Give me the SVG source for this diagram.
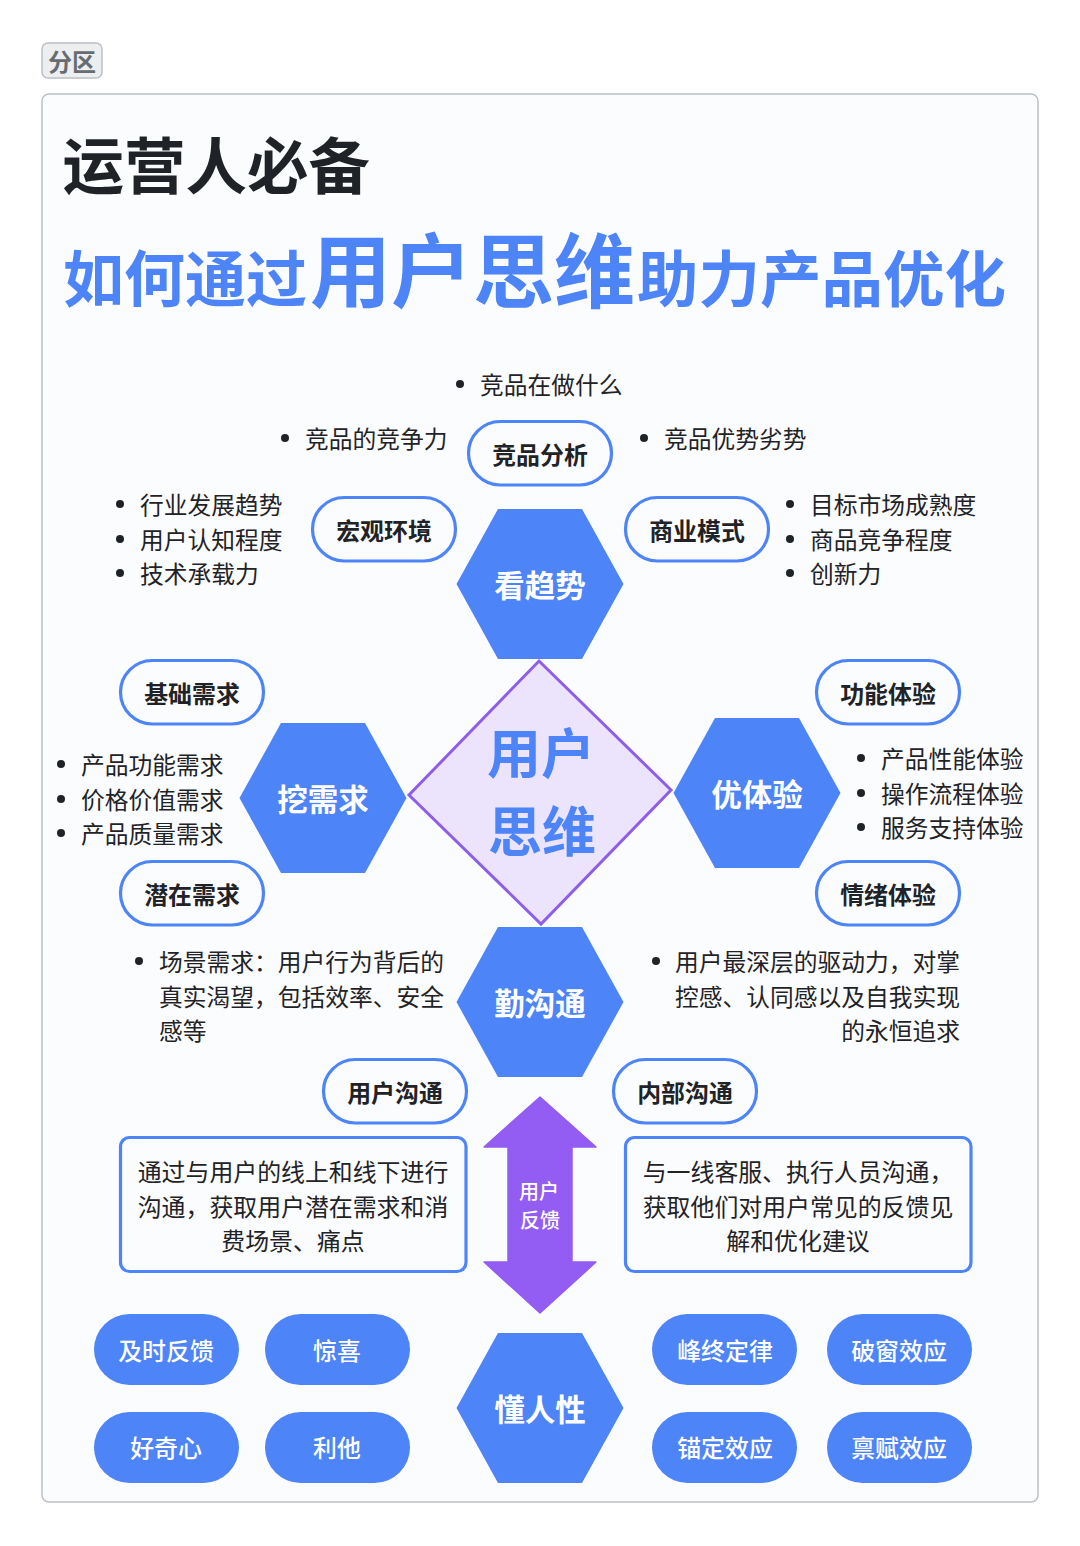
<svg xmlns="http://www.w3.org/2000/svg" width="1080" height="1546" viewBox="0 0 1080 1546">
<style>
text{font-family:"Noto Sans CJK SC","Noto Sans",sans-serif}
.b{font-size:23.750px;fill:#1f2328}
.bx{font-size:23.900px;fill:#1f2328;text-anchor:middle}
.e{text-anchor:end}
.pill{fill:#fbfcfd;stroke:#4d84f7;stroke-width:3.2}
.pt{font-size:23.900px;font-weight:700;fill:#1f2328;text-anchor:middle}
.hex{fill:#4d84f7}
.ht{font-size:30.500px;font-weight:700;fill:#fff;text-anchor:middle}
.fp{fill:#4d84f7}
.ft{font-size:23.900px;font-weight:500;fill:#fff;text-anchor:middle}
.box{fill:#fbfcfd;stroke:#4d84f7;stroke-width:3.2}
.dot{fill:#1f2328}
</style>
<rect width="1080" height="1546" fill="#fff"/>
<g id="section-tag"><rect x="42" y="43" width="60" height="35" rx="6" fill="#eceef0" stroke="#bcc0c4" stroke-width="1.500"/><text x="72" y="71" font-size="24" font-weight="700" fill="#666c72" text-anchor="middle">分区</text></g>
<rect id="section" x="42" y="94" width="996" height="1408" rx="7" fill="#fbfcfd" stroke="#bcc0c4" stroke-width="1.500"/>
<g id="titles">
<text x="62.500" y="189" font-size="61.500" font-weight="700" fill="#1f2328">运营人必备</text>
<text y="302" font-weight="700" fill="#4d84f7" font-size="61"><tspan x="63">如何通过</tspan><tspan x="310" y="301" font-size="81">用户</tspan><tspan x="473" y="301" font-size="81">思维</tspan><tspan x="637" y="302" font-size="61.500">助力产品优化</tspan></text>
</g>
<g id="connectors"/>
<g id="center"><polygon points="539,661 671,790 541,924 409,795" fill="#ece3fd" stroke="#8f5ee8" stroke-width="3"/><text x="541" y="774" font-size="54" font-weight="700" fill="#4d84f7" text-anchor="middle">用户</text><text x="542" y="852" font-size="54" font-weight="700" fill="#4d84f7" text-anchor="middle">思维</text></g>
<g id="n-kanqushi"><polygon class="hex" points="498,509 582,509 623.500,584 582,659 498,659 456.500,584"/><text class="ht" x="540" y="597">看趋势</text></g>
<g id="n-waxuqiu"><polygon class="hex" points="281,723 365,723 406.500,798 365,873 281,873 239.500,798"/><text class="ht" x="323" y="811">挖需求</text></g>
<g id="n-youtiyan"><polygon class="hex" points="715,718 799,718 840.500,793 799,868 715,868 673.500,793"/><text class="ht" x="757" y="806">优体验</text></g>
<g id="n-qingoutong"><polygon class="hex" points="498,927 582,927 623.500,1002 582,1077 498,1077 456.500,1002"/><text class="ht" x="540" y="1015">勤沟通</text></g>
<g id="n-dongrenxing"><polygon class="hex" points="498,1333 582,1333 623.500,1408 582,1483 498,1483 456.500,1408"/><text class="ht" x="540" y="1421">懂人性</text></g>
<g id="p-jingpin"><rect class="pill" x="468.500" y="421.500" width="143" height="63.500" rx="31.700"/><text class="pt" x="540" y="464">竞品分析</text></g>
<g id="p-hongguan"><rect class="pill" x="312.500" y="497.500" width="143" height="63.500" rx="31.700"/><text class="pt" x="384" y="540">宏观环境</text></g>
<g id="p-shangye"><rect class="pill" x="625.500" y="497.500" width="143" height="63.500" rx="31.700"/><text class="pt" x="697" y="540">商业模式</text></g>
<g id="p-jichu"><rect class="pill" x="120.500" y="660.500" width="143" height="63.500" rx="31.700"/><text class="pt" x="192" y="703">基础需求</text></g>
<g id="p-qianzai"><rect class="pill" x="120.500" y="861.500" width="143" height="63.500" rx="31.700"/><text class="pt" x="192" y="904">潜在需求</text></g>
<g id="p-gongneng"><rect class="pill" x="816.500" y="660.500" width="143" height="63.500" rx="31.700"/><text class="pt" x="888" y="703">功能体验</text></g>
<g id="p-qingxu"><rect class="pill" x="816.500" y="861.500" width="143" height="63.500" rx="31.700"/><text class="pt" x="888" y="904">情绪体验</text></g>
<g id="p-yonghu"><rect class="pill" x="323.500" y="1059.500" width="143" height="63.500" rx="31.700"/><text class="pt" x="395" y="1102">用户沟通</text></g>
<g id="p-neibu"><rect class="pill" x="613.500" y="1059.500" width="143" height="63.500" rx="31.700"/><text class="pt" x="685" y="1102">内部沟通</text></g>
<g id="lists">
<circle class="dot" cx="460" cy="384" r="4"/><text class="b" x="480" y="394">竞品在做什么</text>
<circle class="dot" cx="285" cy="438" r="4"/><text class="b" x="305" y="448">竞品的竞争力</text>
<circle class="dot" cx="644" cy="438" r="4"/><text class="b" x="664" y="448">竞品优势劣势</text>
<circle class="dot" cx="120" cy="504" r="4"/><text class="b" x="140" y="514">行业发展趋势</text>
<circle class="dot" cx="120" cy="539" r="4"/><text class="b" x="140" y="549">用户认知程度</text>
<circle class="dot" cx="120" cy="573" r="4"/><text class="b" x="140" y="583">技术承载力</text>
<circle class="dot" cx="790" cy="504" r="4"/><text class="b" x="810" y="514">目标市场成熟度</text>
<circle class="dot" cx="790" cy="539" r="4"/><text class="b" x="810" y="549">商品竞争程度</text>
<circle class="dot" cx="790" cy="573" r="4"/><text class="b" x="810" y="583">创新力</text>
<circle class="dot" cx="61" cy="764" r="4"/><text class="b" x="81" y="774">产品功能需求</text>
<circle class="dot" cx="61" cy="799" r="4"/><text class="b" x="81" y="809">价格价值需求</text>
<circle class="dot" cx="61" cy="833" r="4"/><text class="b" x="81" y="843">产品质量需求</text>
<circle class="dot" cx="861" cy="758" r="4"/><text class="b" x="881" y="768">产品性能体验</text>
<circle class="dot" cx="861" cy="793" r="4"/><text class="b" x="881" y="803">操作流程体验</text>
<circle class="dot" cx="861" cy="827" r="4"/><text class="b" x="881" y="837">服务支持体验</text>
<circle class="dot" cx="139" cy="961" r="4"/><text class="b" x="159" y="971">场景需求：用户行为背后的</text><text class="b" x="159" y="1006">真实渴望，包括效率、安全</text><text class="b" x="159" y="1040">感等</text>
<circle class="dot" cx="656" cy="961" r="4"/><text class="b e" x="960" y="971">用户最深层的驱动力，对掌</text><text class="b e" x="960" y="1006">控感、认同感以及自我实现</text><text class="b e" x="960" y="1040">的永恒追求</text>
</g>
<g id="box-left"><rect class="box" x="120.500" y="1137.500" width="345.500" height="134" rx="9"/><text class="bx" x="293" y="1181">通过与用户的线上和线下进行</text><text class="bx" x="293" y="1216">沟通，获取用户潜在需求和消</text><text class="bx" x="293" y="1250">费场景、痛点</text></g>
<g id="box-right"><rect class="box" x="625.500" y="1137.500" width="345.500" height="134" rx="9"/><text class="bx" x="798" y="1181">与一线客服、执行人员沟通，</text><text class="bx" x="798" y="1216">获取他们对用户常见的反馈见</text><text class="bx" x="798" y="1250">解和优化建议</text></g>
<g id="arrow-feedback"><polygon points="540,1097 596,1147 572,1147 572,1262 596,1262 540,1313 484,1262 508,1262 508,1147 484,1147" fill="#935cf3" stroke="#935cf3" stroke-width="1.500" stroke-linejoin="round"/><text x="539" y="1199" font-size="20" font-weight="500" fill="#fff" text-anchor="middle">用户</text><text x="540" y="1228" font-size="20" font-weight="500" fill="#fff" text-anchor="middle">反馈</text></g>
<g id="f-jishi"><rect class="fp" x="94" y="1314" width="145" height="71" rx="35.500"/><text class="ft" x="166" y="1360">及时反馈</text></g>
<g id="f-jingxi"><rect class="fp" x="265" y="1314" width="145" height="71" rx="35.500"/><text class="ft" x="337" y="1360">惊喜</text></g>
<g id="f-haoqi"><rect class="fp" x="94" y="1412" width="145" height="71" rx="35.500"/><text class="ft" x="166" y="1457">好奇心</text></g>
<g id="f-lita"><rect class="fp" x="265" y="1412" width="145" height="71" rx="35.500"/><text class="ft" x="337" y="1457">利他</text></g>
<g id="f-fengzhong"><rect class="fp" x="652" y="1314" width="145" height="71" rx="35.500"/><text class="ft" x="725" y="1360">峰终定律</text></g>
<g id="f-pochuang"><rect class="fp" x="827" y="1314" width="145" height="71" rx="35.500"/><text class="ft" x="899" y="1360">破窗效应</text></g>
<g id="f-maoding"><rect class="fp" x="652" y="1412" width="145" height="71" rx="35.500"/><text class="ft" x="725" y="1457">锚定效应</text></g>
<g id="f-binfu"><rect class="fp" x="827" y="1412" width="145" height="71" rx="35.500"/><text class="ft" x="899" y="1457">禀赋效应</text></g>
</svg>
